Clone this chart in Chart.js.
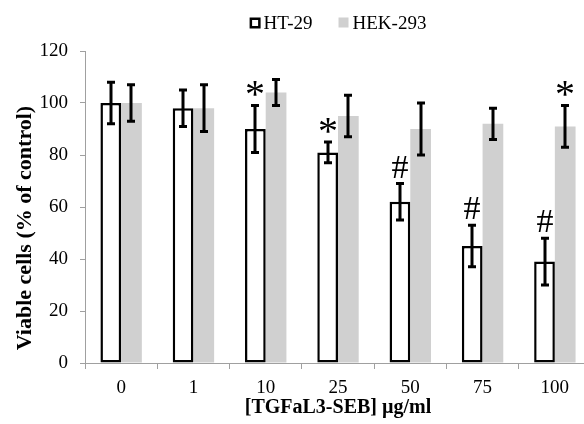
<!DOCTYPE html>
<html>
<head>
<meta charset="utf-8">
<script src="https://cdn.jsdelivr.net/npm/chart.js@4"></script>
<style>
html,body{margin:0;padding:0;background:#fff;overflow:hidden;}
#wrap{width:584px;height:424px;overflow:hidden;position:relative;}
canvas{display:block;}
</style>
</head>
<body>
<div id="wrap"><canvas id="c" width="600" height="424"></canvas></div>
<script>
const categories = ['0', '1', '10', '25', '50', '75', '100'];
const htValues = [100, 98, 90, 81, 62, 45, 39];
const htErrors = [8, 7, 9, 4, 7, 8, 9];
const hekValues = [100, 98, 104, 95, 90, 92, 91];
const hekErrors = [7, 9, 5, 8, 10, 6, 8];
const htMarks = ['', '', '*', '*', '#', '#', '#'];
const hekMarks = ['', '', '', '', '', '', '*'];
const yTicks = [0, 20, 40, 60, 80, 100, 120];
const yTitle = 'Viable cells (% of control)';

const SERIF = "'Liberation Serif', 'Times New Roman', serif";
const AXIS_GREY = '#a0a0a0';
const HEK_GREY = '#d0d0d0';

const errorBars = {
  id: 'errorBars',
  afterDatasetsDraw(chart) {
    const {ctx} = chart;
    const y = chart.scales.y;
    chart.data.datasets.forEach((ds, i) => {
      const meta = chart.getDatasetMeta(i);
      meta.data.forEach((bar, j) => {
        const v = ds.data[j], e = ds.errors[j];
        const yt = y.getPixelForValue(v + e), yb = y.getPixelForValue(v - e);
        const x = Math.round(bar.x);
        ctx.save();
        ctx.strokeStyle = '#000';
        ctx.lineCap = 'butt';
        ctx.lineWidth = 3;
        ctx.beginPath();
        ctx.moveTo(x, yt); ctx.lineTo(x, yb);
        ctx.stroke();
        ctx.beginPath();
        ctx.moveTo(x - 4, yt); ctx.lineTo(x + 4, yt);
        ctx.moveTo(x - 4, yb); ctx.lineTo(x + 4, yb);
        ctx.stroke();
        const mark = ds.marks[j];
        if (mark) {
          const size = mark === '*' ? 40 : 34;
          ctx.font = size + 'px ' + SERIF;
          ctx.fillStyle = '#000';
          ctx.textAlign = 'center';
          ctx.textBaseline = 'alphabetic';
          const cy = yt - 17;
          const base = mark === '*' ? cy + size * 0.47 : cy + size * 0.33;
          ctx.fillText(mark, x, base);
        }
        ctx.restore();
      });
    });
  }
};

const customLegend = {
  id: 'customLegend',
  afterDraw(chart) {
    const {ctx, chartArea} = chart;
    ctx.save();
    // y axis title
    ctx.font = 'bold 22px ' + SERIF;
    ctx.fillStyle = '#000';
    ctx.textAlign = 'center';
    ctx.textBaseline = 'middle';
    ctx.translate(25, 228);
    ctx.rotate(-Math.PI / 2);
    ctx.fillText(yTitle, 0, 0);
    ctx.setTransform(1, 0, 0, 1, 0, 0);

    ctx.font = '19px ' + SERIF;
    ctx.textBaseline = 'middle';
    ctx.textAlign = 'left';
    const items = chart.data.datasets.map(ds => ({label: ds.label, ds}));
    const box = 11, gap = 3, itemGap = 26;
    let total = 0;
    items.forEach((it, k) => {
      it.w = box + gap + ctx.measureText(it.label).width;
      total += it.w + (k ? itemGap : 0);
    });
    let x = (chartArea.left + chartArea.right) / 2 - total / 2;
    const cy = 23;
    items.forEach(it => {
      if (it.ds.borderWidth) {
        ctx.fillStyle = '#fff';
        ctx.fillRect(x, cy - box / 2, box, box);
        ctx.strokeStyle = '#000';
        ctx.lineWidth = 2.5;
        ctx.strokeRect(x + 1.25, cy - box / 2 + 1.25, box - 2.5, box - 2.5);
      } else {
        ctx.fillStyle = it.ds.backgroundColor;
        ctx.fillRect(x, cy - box / 2, box - 1, box - 1);
      }
      ctx.fillStyle = '#000';
      ctx.fillText(it.label, x + box + gap, cy + 1);
      x += it.w + itemGap;
    });
    ctx.restore();
  }
};

new Chart(document.getElementById('c'), {
  type: 'bar',
  data: {
    labels: categories,
    datasets: [
      {
        label: 'HT-29',
        data: htValues,
        errors: htErrors,
        marks: htMarks,
        backgroundColor: '#ffffff',
        borderColor: '#000000',
        borderWidth: 2.5,
        borderSkipped: false,
        categoryPercentage: 0.573,
        barPercentage: 1.0
      },
      {
        label: 'HEK-293',
        data: hekValues,
        errors: hekErrors,
        marks: hekMarks,
        backgroundColor: HEK_GREY,
        borderWidth: 0,
        categoryPercentage: 0.573,
        barPercentage: 1.0
      }
    ]
  },
  options: {
    responsive: false,
    animation: false,
    events: [],
    layout: {padding: {top: 51, right: 9, left: 0, bottom: 0}},
    plugins: {
      legend: {display: false},
      tooltip: {enabled: false}
    },
    scales: {
      x: {
        offset: true,
        grid: {offset: true, drawOnChartArea: false, drawTicks: true, tickLength: 6, color: AXIS_GREY},
        border: {color: AXIS_GREY, width: 1},
        ticks: {color: '#000', font: {family: SERIF, size: 19}, padding: 8, maxRotation: 0},
        title: {display: true, text: '[TGFaL3-SEB] µg/ml', color: '#000', font: {family: SERIF, size: 20, weight: 'bold'}, padding: {top: 0, bottom: 4}},
        afterFit(s) { s.height = 61; }
      },
      y: {
        min: 0,
        max: 120,
        afterBuildTicks(s) { s.ticks = yTicks.map(v => ({value: v})); },
        grid: {drawOnChartArea: false, drawTicks: true, tickLength: 5, color: AXIS_GREY},
        border: {color: AXIS_GREY, width: 1},
        ticks: {color: '#000', font: {family: SERIF, size: 19}, padding: 12},
        title: {display: false},
        afterFit(s) { s.width = 85; }
      }
    }
  },
  plugins: [errorBars, customLegend]
});
</script>
</body>
</html>
